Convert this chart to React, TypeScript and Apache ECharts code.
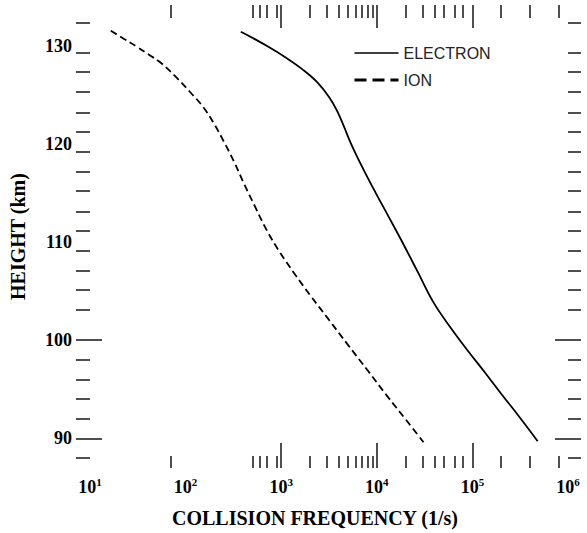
import React, { useEffect, useRef } from "react";
import * as echarts from "echarts";

// Electron collision frequency (1/s) vs height (km)
const ELECTRON_FREQ = [378, 530, 758, 1112, 1668, 2388, 3177, 3855, 4550, 5383, 7178, 9795, 13370, 18230, 26730, 39170, 58750, 88310, 135900, 203700, 313300, 481900];
const ELECTRON_HEIGHT = [131.41, 130.66, 129.8, 128.79, 127.58, 126.26, 124.75, 123.33, 121.72, 120.0, 117.47, 114.95, 112.53, 110.1, 106.97, 103.84, 101.31, 98.99, 96.67, 94.44, 92.12, 89.7];

// Ion collision frequency (1/s) vs height (km)
const ION_FREQ = [16.5, 22.5, 30.8, 41.0, 54.6, 80, 112, 153, 199, 252, 321, 407, 530, 705, 962, 1377, 2018, 3184, 5012, 8085, 12740, 20040, 30830];
const ION_HEIGHT = [131.52, 130.71, 129.9, 129.09, 128.28, 126.77, 125.25, 123.74, 122.02, 120.2, 118.18, 115.96, 113.64, 111.21, 108.99, 106.77, 104.55, 102.02, 99.49, 96.87, 94.34, 91.92, 89.6];

// Axis labels and tick marks
const X_LABEL_EXPONENTS = [1, 2, 3, 4, 5, 6];
const Y_LABELS = [90, 100, 110, 120, 130];
const X_TICKS_SHORT = [70, 500, 600, 700, 900, 2000, 3000, 4000, 5000, 6000, 7000, 8000, 9000, 20000, 30000, 40000, 50000, 65000, 80000, 200000, 400000, 800000];
const X_TICKS_LONG = [1000, 10000, 100000];
const Y_TICKS_SHORT = [88, 92, 94, 96, 98, 103.1, 105.1, 107.1, 109.1, 111.1, 113.1, 115.2, 117.2, 119.2, 121.2, 123.2, 125.3, 127.3, 129.3, 132.3];
const Y_TICKS_LONG = [90, 100];
const LEGEND_NAMES = ["ELECTRON", "ION"];

const SERIF = "'Liberation Serif', 'Times New Roman', serif";
const SANS = "'Liberation Sans', Arial, sans-serif";
const TICK_COLOR = "#222";

export default function App() {
  const ref = useRef<HTMLDivElement>(null);

  useEffect(() => {
    if (!ref.current) return;
    const chart = echarts.init(ref.current, undefined, { renderer: "svg" });

    const lg = (v: number) => Math.log10(v);
    const electron = ELECTRON_FREQ.map((f, i) => [lg(f), ELECTRON_HEIGHT[i]]);
    const ion = ION_FREQ.map((f, i) => [lg(f), ION_HEIGHT[i]]);

    const xBase = {
      type: "value" as const,
      min: 1,
      max: 6,
      axisLine: { show: false },
      splitLine: { show: false },
    };
    const yBase = {
      type: "value" as const,
      min: 86.97,
      max: 134.14,
      axisLine: { show: false },
      splitLine: { show: false },
    };
    const tickStyle = { color: TICK_COLOR, width: 1.6 };

    const option: any = {
      animation: false,
      backgroundColor: "#fff",
      grid: { left: 86, right: 19, top: 5, bottom: 61, containLabel: false },
      legend: {
        orient: "vertical",
        left: 353,
        top: 45,
        padding: 0,
        itemWidth: 44,
        itemHeight: 14,
        itemGap: 11,
        textStyle: { fontFamily: SANS, fontSize: 16, color: "#222" },
        data: [
          { name: LEGEND_NAMES[0], itemStyle: { opacity: 0 }, lineStyle: { width: 1.3, color: "#000" } },
          { name: LEGEND_NAMES[1], itemStyle: { opacity: 0 }, lineStyle: { width: 3, type: "dashed", color: "#000" } },
        ],
      },
      xAxis: [
        {
          ...xBase,
          position: "bottom",
          name: "COLLISION FREQUENCY (1/s)",
          nameLocation: "middle",
          nameGap: 40,
          nameTextStyle: { fontFamily: SERIF, fontWeight: "bold", fontSize: 20, color: "#000", padding: [0, 28, 0, 0] },
          axisTick: { show: true, inside: true, length: 12, lineStyle: tickStyle, customValues: X_TICKS_SHORT.map(lg) },
          axisLabel: {
            show: true,
            margin: 8,
            customValues: X_LABEL_EXPONENTS,
            formatter: (v: number) => `{b|10}{s|${Math.round(v)}}`,
            rich: {
              b: { fontFamily: SERIF, fontWeight: "bold", fontSize: 18, color: "#000", lineHeight: 22 },
              s: { fontFamily: SERIF, fontWeight: "bold", fontSize: 11, color: "#000", lineHeight: 12, verticalAlign: "top" },
            },
          },
        },
        {
          ...xBase,
          position: "bottom",
          axisTick: { show: true, inside: true, length: 25, lineStyle: tickStyle, customValues: X_TICKS_LONG.map(lg) },
          axisLabel: { show: false },
        },
        {
          ...xBase,
          position: "top",
          axisTick: { show: true, inside: true, length: 13, lineStyle: tickStyle, customValues: X_TICKS_SHORT.map(lg) },
          axisLabel: { show: false },
        },
        {
          ...xBase,
          position: "top",
          axisTick: { show: true, inside: true, length: 23, lineStyle: tickStyle, customValues: X_TICKS_LONG.map(lg) },
          axisLabel: { show: false },
        },
      ],
      yAxis: [
        {
          ...yBase,
          position: "left",
          name: "HEIGHT (km)",
          nameLocation: "middle",
          nameGap: 62,
          nameRotate: 90,
          nameTextStyle: { fontFamily: SERIF, fontWeight: "bold", fontSize: 20, color: "#000" },
          axisTick: { show: true, inside: false, length: 14, lineStyle: tickStyle, customValues: Y_TICKS_SHORT },
          axisLabel: {
            show: true,
            margin: 18,
            customValues: Y_LABELS,
            fontFamily: SERIF,
            fontWeight: "bold",
            fontSize: 18,
            color: "#000",
          },
        },
        {
          ...yBase,
          position: "left",
          offset: -12,
          axisTick: { show: true, inside: false, length: 26, lineStyle: tickStyle, customValues: Y_TICKS_LONG },
          axisLabel: { show: false },
        },
        {
          ...yBase,
          position: "right",
          axisTick: { show: true, inside: false, length: 13, lineStyle: tickStyle, customValues: Y_TICKS_SHORT },
          axisLabel: { show: false },
        },
        {
          ...yBase,
          position: "right",
          offset: -13,
          axisTick: { show: true, inside: false, length: 26, lineStyle: tickStyle, customValues: Y_TICKS_LONG },
          axisLabel: { show: false },
        },
      ],
      series: [
        {
          name: LEGEND_NAMES[0],
          type: "line",
          xAxisIndex: 0,
          yAxisIndex: 0,
          data: electron,
          smooth: 0.4,
          symbol: "none",
          showSymbol: false,
          lineStyle: { color: "#000", width: 1.8 },
          itemStyle: { color: "#000" },
        },
        {
          name: LEGEND_NAMES[1],
          type: "line",
          xAxisIndex: 0,
          yAxisIndex: 0,
          data: ion,
          smooth: 0.4,
          symbol: "none",
          showSymbol: false,
          lineStyle: { color: "#000", width: 1.8, type: [7, 4] },
          itemStyle: { color: "#000" },
        },
      ],
    };

    chart.setOption(option);
    return () => chart.dispose();
  }, []);

  return (
    <div
      ref={ref}
      style={{ position: "fixed", left: 0, top: 0, width: 587, height: 533, background: "#fff" }}
    />
  );
}
